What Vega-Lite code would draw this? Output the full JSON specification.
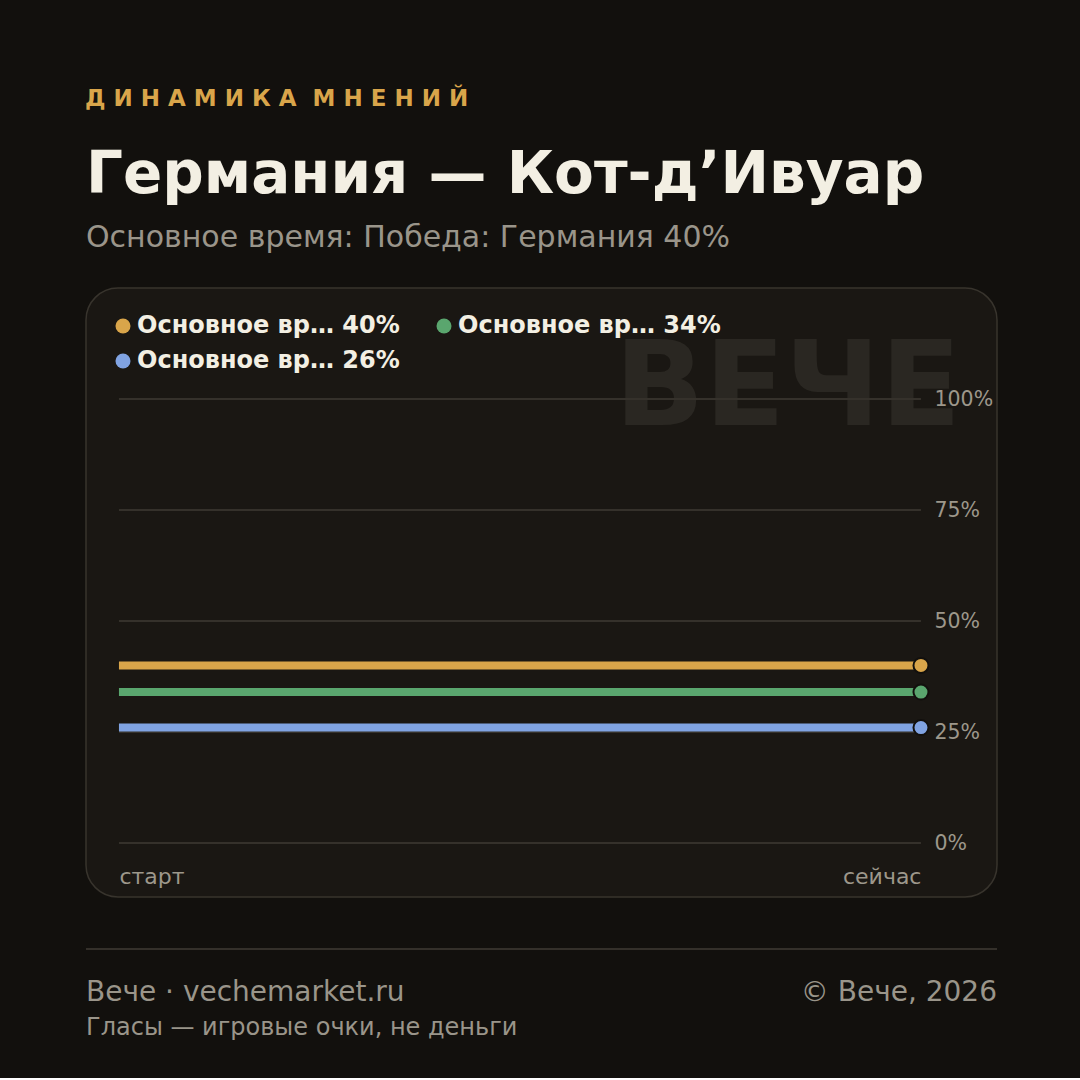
{
  "$schema": "https://vega.github.io/schema/vega-lite/v6.json",
  "background": "#12100d",
  "padding": {"left": 85, "right": 84, "top": 88, "bottom": 34},
  "config": {
    "font": "DejaVu Sans",
    "view": {"stroke": null},
    "concat": {"spacing": 50}
  },
  "title": {
    "text": "Д И Н А М И К А\u00a0\u00a0М Н Е Н И Й",
    "anchor": "start",
    "color": "#d9a54a",
    "fontSize": 23,
    "fontWeight": "bold",
    "offset": 35
  },
  "vconcat": [
    {
      "width": 911,
      "height": 609,
      "view": {"fill": "#1a1713", "stroke": "#38342d", "strokeWidth": 1.5, "cornerRadius": 32},
      "title": {
        "text": "Германия — Кот-д’Ивуар",
        "subtitle": "Основное время: Победа: Германия 40%",
        "anchor": "start",
        "fontSize": 58,
        "fontWeight": "bold",
        "color": "#f3efe3",
        "subtitleFontSize": 30,
        "subtitleColor": "#9a958a",
        "subtitleFontWeight": "normal",
        "subtitlePadding": 18,
        "offset": 35
      },
      "data": {
        "values": [
          {"series": "Основное вр… 40%", "t": 0, "value": 0.40},
          {"series": "Основное вр… 40%", "t": 1, "value": 0.40},
          {"series": "Основное вр… 34%", "t": 0, "value": 0.34},
          {"series": "Основное вр… 34%", "t": 1, "value": 0.34},
          {"series": "Основное вр… 26%", "t": 0, "value": 0.26},
          {"series": "Основное вр… 26%", "t": 1, "value": 0.26}
        ]
      },
      "layer": [
        {
          "data": {"values": [{"mark": "ВЕЧЕ"}]},
          "mark": {"type": "text", "fontSize": 118, "fontWeight": "bold", "color": "#2a2722", "align": "right", "baseline": "alphabetic"},
          "encoding": {
            "text": {"field": "mark"},
            "x": {"datum": 1.0499, "type": "quantitative", "scale": {"domain": [-0.0411, 1.0948], "nice": false, "zero": false}},
            "y": {"datum": 0.9414, "type": "quantitative", "scale": {"domain": [-0.1216, 1.25], "nice": false, "zero": false}}
          }
        },
        {
          "data": {"values": [{"value": 0}, {"value": 0.25}, {"value": 0.5}, {"value": 0.75}, {"value": 1}]},
          "mark": {"type": "rule", "color": "#35312b", "strokeWidth": 2},
          "encoding": {
            "x": {"datum": 0, "type": "quantitative"},
            "x2": {"datum": 1},
            "y": {"field": "value", "type": "quantitative"}
          }
        },
        {
          "mark": {"type": "line", "strokeWidth": 8, "strokeCap": "butt"},
          "encoding": {
            "x": {
              "field": "t", "type": "quantitative",
              "scale": {"domain": [-0.0411, 1.0948], "nice": false, "zero": false},
              "axis": {
                "title": null, "values": [0, 1], "orient": "bottom", "offset": -54,
                "domain": false, "ticks": false, "grid": false,
                "labelExpr": "datum.value < 0.5 ? 'старт' : 'сейчас'",
                "labelAlign": {"condition": {"test": "datum.value < 0.5", "value": "left"}, "value": "right"},
                "labelFontSize": 22, "labelColor": "#9d978b", "labelPadding": 23
              }
            },
            "y": {
              "field": "value", "type": "quantitative",
              "scale": {"domain": [-0.1216, 1.25], "nice": false, "zero": false},
              "axis": {
                "title": null, "values": [0, 0.25, 0.5, 0.75, 1], "format": ".0%", "orient": "right", "offset": -76,
                "domain": false, "ticks": false, "grid": false,
                "labelFontSize": 20.5, "labelColor": "#9d978b", "labelPadding": 13
              }
            },
            "color": {
              "field": "series", "type": "nominal",
              "scale": {"domain": ["Основное вр… 40%", "Основное вр… 34%", "Основное вр… 26%"], "range": ["#d9a54a", "#5aa66e", "#80a3e2"]},
              "legend": {
                "title": null, "orient": "none", "legendX": 25, "legendY": 26, "direction": "horizontal",
                "columns": 2, "columnPadding": 32, "rowPadding": 11, "padding": 0,
                "symbolType": "circle", "symbolSize": 225, "symbolStrokeWidth": 0, "symbolOpacity": 1,
                "labelFontSize": 24, "labelFontWeight": "bold", "labelColor": "#f3efe3", "labelOffset": 2, "labelLimit": 500,
                "encode": {"symbols": {"update": {"fill": {"scale": "color", "field": "value"}, "strokeWidth": {"value": 0}, "opacity": {"value": 1}}}}
              }
            }
          }
        },
        {
          "transform": [{"filter": "datum.t == 1"}],
          "mark": {"type": "point", "filled": true, "size": 225, "opacity": 1, "stroke": "#12100d", "strokeWidth": 2},
          "encoding": {
            "x": {"field": "t", "type": "quantitative"},
            "y": {"field": "value", "type": "quantitative"},
            "color": {"field": "series", "type": "nominal"}
          }
        }
      ]
    },
    {
      "width": 911,
      "height": 95,
      "data": {"values": [{"site": "Вече · vechemarket.ru", "copy": "© Вече, 2026", "note": "Гласы — игровые очки, не деньги"}]},
      "layer": [
        {
          "mark": {"type": "rule", "color": "#34302a", "strokeWidth": 2},
          "encoding": {
            "y": {"datum": 0, "type": "quantitative", "scale": {"domain": [0, 95], "reverse": true}, "axis": null}
          }
        },
        {
          "mark": {"type": "text", "align": "left", "baseline": "alphabetic", "fontSize": 28, "color": "#9a958a"},
          "encoding": {
            "text": {"field": "site"},
            "x": {"datum": 0, "type": "quantitative", "scale": {"domain": [0, 1]}, "axis": null},
            "y": {"datum": 55, "type": "quantitative", "axis": null}
          }
        },
        {
          "mark": {"type": "text", "align": "right", "baseline": "alphabetic", "fontSize": 28, "color": "#9a958a"},
          "encoding": {
            "text": {"field": "copy"},
            "x": {"datum": 1, "type": "quantitative", "axis": null},
            "y": {"datum": 55, "type": "quantitative", "axis": null}
          }
        },
        {
          "mark": {"type": "text", "align": "left", "baseline": "alphabetic", "fontSize": 24, "color": "#9a958a"},
          "encoding": {
            "text": {"field": "note"},
            "x": {"datum": 0, "type": "quantitative", "axis": null},
            "y": {"datum": 91, "type": "quantitative", "axis": null}
          }
        }
      ]
    }
  ]
}
